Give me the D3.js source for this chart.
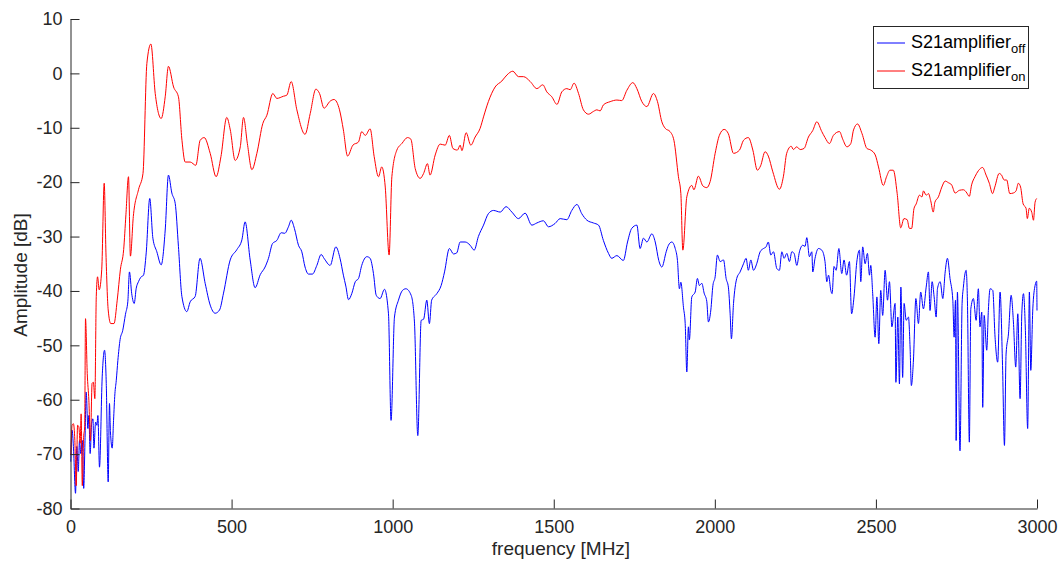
<!DOCTYPE html>
<html><head><meta charset="utf-8">
<script src="https://cdn.jsdelivr.net/npm/d3@7"></script>
<style>body{margin:0;background:#fff} svg{display:block}</style>
</head><body><svg id="c" width="1062" height="566"></svg>
<script>
// ---- data (frequency MHz, amplitude dB) ----
const seriesNames = ["S21amplifier_off", "S21amplifier_on"];
const xTicks = [0, 500, 1000, 1500, 2000, 2500, 3000];
const yTicks = [10, 0, -10, -20, -30, -40, -50, -60, -70, -80];

const seriesOff = [[1,-71.4],[5,-65.6],[9,-68.6],[15.6,-77.2],[19.7,-68.6],[24,-73.2],[28,-67.5],[32,-69.9],[36.6,-67.5],[41,-76.3],[45,-67.5],[48.7,-58.6],[54,-65.3],[57,-62.9],[61,-69.9],[65.5,-64.4],[69.6,-63.5],[72.7,-68.9],[78,-64.1],[82,-64.7],[85,-62.9],[90,-72.4],[98.4,-55.8],[105.7,-50.9],[111,-57],[117,-75.1],[121,-60.7],[124,-65.9],[129.5,-68.9],[133.6,-63.8],[137.8,-58.9],[142,-56.5],[147,-52.8],[154,-48.9],[162,-47.3],[170.6,-44.3],[178,-41.9],[183,-36.5],[190,-40.5],[197.7,-42.3],[204,-39.5],[211,-38.3],[218,-37.5],[226.6,-37.1],[235,-33],[246,-23],[255.7,-30.3],[268,-32.8],[281.5,-35.2],[294,-28.8],[304,-18.7],[314.6,-22],[325,-23.9],[335,-31.8],[345.7,-41],[361,-43.8],[371.5,-42],[387,-41],[402,-34],[418,-38.6],[433.6,-42.6],[449,-44.1],[462.6,-43.5],[475,-40.4],[495.7,-34.3],[516.4,-32.4],[532,-30.6],[542,-27.3],[557.7,-34.3],[573,-39.4],[589,-37],[604,-35.6],[614.5,-34],[627,-31.3],[640.6,-30.7],[654,-29.3],[665,-29.4],[676.6,-28.2],[685,-27],[695,-28.5],[707.6,-31.6],[718,-32.8],[728,-35.6],[738.7,-36.9],[751,-36.9],[764.7,-35.3],[778,-33.3],[788,-34.1],[806,-35.3],[823.6,-31.9],[837,-34.1],[847,-37.1],[854.6,-39.1],[863,-41.6],[873,-40.5],[884,-38.3],[894,-37.7],[904,-35.3],[920,-33.7],[930,-34],[940.4,-36.8],[949,-40.8],[961,-41.4],[974.6,-39.7],[987,-44.2],[995,-63.8],[1005.6,-44.8],[1018,-41.7],[1030.5,-39.9],[1041,-39.6],[1057.4,-40.8],[1067.6,-45.7],[1078,-66.6],[1088.5,-45.4],[1096,-45.2],[1106,-41.7],[1114,-46],[1121,-41.7],[1137,-40.5],[1150.5,-39],[1161,-36.5],[1176,-32.2],[1189,-33.2],[1199,-33],[1209.5,-31],[1225,-31],[1240.5,-31.6],[1253,-32.5],[1266,-30],[1282,-27.9],[1297,-25.8],[1313,-25.2],[1334,-25.5],[1352,-24.5],[1370,-25.5],[1390.5,-26.7],[1411,-25.7],[1432,-27.9],[1447.6,-27.5],[1468,-27.1],[1483.5,-28.2],[1504,-27.6],[1520,-26.7],[1540.6,-26.9],[1556,-25.2],[1572,-24.1],[1587,-25.8],[1603,-27],[1623,-27.5],[1639,-27.9],[1654,-30.7],[1670,-33.1],[1680,-34],[1696,-33.5],[1716,-34.4],[1729,-31],[1742,-28.5],[1758,-27.9],[1768,-32.2],[1778.5,-30.3],[1789,-31],[1804.5,-29.5],[1815,-31],[1826,-34.4],[1835.5,-35.6],[1849,-32.8],[1856,-31.6],[1866.5,-31],[1877,-32.2],[1884,-34.4],[1890,-39.6],[1894.5,-38.4],[1902.6,-43],[1908,-46],[1913,-54.9],[1918,-46.6],[1921,-49],[1928.5,-41.1],[1939,-40.2],[1946,-37.7],[1952,-39],[1959.6,-38.6],[1966.8,-40.4],[1975,-41.9],[1980,-45.7],[1987.6,-43.5],[1994,-39],[2001,-37.4],[2008,-33.4],[2016.5,-34.6],[2027,-34.3],[2035,-37.7],[2042,-39.3],[2047.5,-44.2],[2051.5,-48.8],[2058,-42.3],[2068,-37.7],[2078.5,-36.5],[2089,-35],[2097,-34],[2104,-36.2],[2111.7,-34.3],[2120,-36.2],[2130,-35],[2140.6,-32.8],[2151,-32.2],[2159,-31.9],[2166,-31],[2173.8,-33.4],[2182,-32.8],[2192.5,-35.9],[2200.5,-36.2],[2208,-32.8],[2215,-34],[2223.5,-33.1],[2231.6,-34.6],[2239,-32.8],[2246,-33.1],[2254.5,-35.3],[2262.6,-32.8],[2273,-31.6],[2280,-31.8],[2285.5,-30.2],[2293.6,-33.7],[2301,-32.8],[2304,-36.5],[2311,-34],[2321.5,-32.2],[2332,-32.5],[2342,-34.6],[2347.6,-38.3],[2353,-37.1],[2360,-39.9],[2364,-40.5],[2370,-35.5],[2376.5,-36.2],[2385,-32.2],[2394,-36.8],[2401,-34.3],[2409,-37.1],[2417.7,-34.6],[2424.5,-44.2],[2432,-41.1],[2440.6,-34.7],[2449,-32.5],[2453,-38.3],[2459,-31.9],[2466.5,-35],[2473.7,-33.1],[2480,-37.1],[2484,-35.3],[2490,-40.5],[2497.5,-48.5],[2503,-41.1],[2509,-49.7],[2515,-39.9],[2521,-44.5],[2528.6,-36.2],[2536,-41.7],[2542,-38.3],[2549.6,-46.6],[2559.5,-42.3],[2562,-56.8],[2568,-44.8],[2573,-57.1],[2577.5,-39.3],[2583,-55.9],[2587.5,-42.3],[2594,-45.4],[2601,-44.8],[2606,-50.3],[2610,-57.4],[2616.5,-52.7],[2624,-41.4],[2632,-46],[2639,-40.2],[2647.5,-43.3],[2656,-39.3],[2663,-36.5],[2668,-43.6],[2674.5,-38.3],[2680.7,-41.1],[2687,-44.8],[2691,-39.6],[2699.5,-38.3],[2707.6,-41.4],[2715,-36.5],[2722,-34],[2730,-37.7],[2738.7,-41.7],[2742.7,-48.5],[2747,-41.7],[2749,-67.5],[2753,-40.2],[2761,-69.4],[2767.5,-42.3],[2771.5,-39.3],[2780,-36.2],[2784,-41.7],[2790,-67.8],[2794.6,-43.3],[2802.6,-41.4],[2811,-45.4],[2818,-39.6],[2823,-46.6],[2828.6,-43.9],[2831.5,-61.4],[2836,-44.5],[2844,-50.9],[2849,-43.6],[2854.4,-39.6],[2862.7,-39.9],[2869.8,-48.5],[2878,-53.1],[2885.4,-40.2],[2893,-53.7],[2899,-68.4],[2904,-51.6],[2911.4,-47.9],[2919.7,-40.8],[2926.8,-45.7],[2934,-54],[2940.4,-44.2],[2947.5,-59.8],[2952.8,-44.2],[2958,-40.5],[2964,-47.3],[2971,-65.3],[2976.4,-40.2],[2980.7,-54.6],[2987,-43.3],[2994,-39],[2999,-38.2],[3000,-43.6]];

const seriesOn = [[1,-70.2],[5,-64.7],[9,-64.4],[13.5,-67.5],[17.7,-75.8],[22,-64.7],[26,-65],[30,-68],[33,-62.6],[36.6,-75.8],[40.8,-66.9],[44,-65],[46.6,-45.1],[52,-55.2],[57,-60.1],[62,-67.5],[67,-57],[71,-56.8],[75.6,-59.8],[80,-41],[84,-37.4],[89,-39.8],[97,-36],[104.6,-20.2],[110,-33],[117,-43.5],[125,-46],[135,-46],[145,-41.7],[155,-36],[165,-32.4],[172,-26],[180,-19],[186,-33.6],[195,-26.3],[211,-21.4],[225,-18.4],[237,1.8],[249.5,5.4],[263,-3.7],[281.5,-8.3],[294,-4.3],[304,1.3],[320,-2.5],[335,-4.3],[346,-12.3],[356,-16.3],[371.5,-16.3],[389,-16.9],[402.5,-12.3],[415,-11.8],[433.6,-14.7],[452,-19],[467,-15.3],[485,-8.1],[496,-10.4],[511,-16],[527,-13.5],[537,-8.1],[549,-12.9],[563,-17.7],[578.5,-14.7],[597,-9.2],[609.5,-7.7],[628,-3.7],[640.5,-4.6],[661,-4.2],[671.5,-4.0],[685,-1.5],[702.6,-6.7],[728,-11.2],[744,-7.4],[761.6,-2.9],[773,-3.7],[787,-6.4],[806,-5.1],[818,-4.8],[835,-6.7],[847,-10.4],[860,-15.2],[876.5,-13.2],[894,-12.6],[904,-10.7],[915,-11.4],[930,-10.2],[942.6,-15.3],[956,-19],[966,-17.2],[977,-20.9],[989,-33.4],[997.5,-19],[1013,-14.1],[1028.5,-12.9],[1046,-11.8],[1056.5,-12.1],[1070,-17.5],[1085.5,-19.3],[1096,-18.4],[1108,-16.6],[1116,-18.7],[1132,-15],[1147.5,-13],[1163,-13.2],[1176,-11.4],[1187,-13.8],[1201,-14.1],[1209.5,-13.2],[1215,-14.2],[1228,-10.9],[1242.6,-13.2],[1256,-11.7],[1271.5,-10.1],[1282,-8],[1297,-5.2],[1318,-2.5],[1339,-1.4],[1354.5,-0.3],[1373,0.4],[1390.5,-0.6],[1406,-0.6],[1427,-1.5],[1447.6,-2.8],[1466,-2.1],[1478.5,-3.4],[1494,-4.3],[1510,-5.7],[1525,-3.4],[1540.6,-2.8],[1551,-3],[1563,-1.8],[1577,-3.7],[1592,-6.7],[1608,-7.5],[1623,-7],[1634,-6.7],[1644,-6.9],[1654,-5.8],[1675,-5.2],[1696,-4.9],[1711,-5],[1727,-3.1],[1745.5,-1.7],[1758,-2.8],[1773.5,-5.2],[1789,-6.1],[1809.5,-3.7],[1822,-5.2],[1835.5,-8.9],[1846,-10.1],[1861,-10.7],[1873,-12.3],[1887,-19],[1894.5,-22.1],[1900.7,-32.5],[1913,-22.7],[1928.5,-20.6],[1935,-21.4],[1949,-18.9],[1963,-20.7],[1975,-21],[1985.4,-19.9],[2001,-14.7],[2014,-11.4],[2029,-10.3],[2042,-11.1],[2058,-14.7],[2076.6,-14.1],[2089,-12.3],[2104,-11.8],[2118,-14.1],[2132,-17.8],[2142,-17],[2156,-14.4],[2166,-15.2],[2180,-18.1],[2200.5,-21.3],[2213,-18.9],[2223,-14.7],[2237,-13.4],[2244,-14],[2254,-13.5],[2265,-14],[2277,-13.8],[2290.5,-11.7],[2304,-10.5],[2316.5,-8.9],[2332,-10.7],[2342,-11.8],[2355.7,-12.9],[2368,-11.4],[2387,-10.7],[2397,-12.1],[2410,-13.5],[2422,-12.9],[2430.5,-10.4],[2443,-9.3],[2457,-11.1],[2472,-13.8],[2484,-14.1],[2498,-15],[2508,-17.2],[2523,-20.6],[2533,-19],[2543.5,-17.8],[2554,-17.8],[2566,-22.1],[2577,-28.4],[2587,-26.7],[2597,-26.9],[2604,-28.5],[2611,-28.5],[2618,-24.9],[2625,-24],[2635,-22.4],[2643,-22.7],[2647.5,-21.6],[2656,-22.4],[2663,-22.1],[2670,-23.4],[2678,-25.5],[2683,-23.7],[2694,-22.7],[2704.6,-20.9],[2715,-19.8],[2725,-20.1],[2735,-20.5],[2746,-22],[2759,-21.5],[2772,-21.4],[2780,-21.8],[2790,-22.6],[2797,-20.5],[2807.4,-19],[2818,-17.9],[2831,-17.3],[2842,-18.7],[2852,-20.2],[2862,-22.1],[2869,-20.9],[2882.6,-18.4],[2890,-18.7],[2898,-19.6],[2906,-19.6],[2915.5,-22.1],[2926,-22],[2935,-21.6],[2942,-20.2],[2949,-20.9],[2957,-24],[2966,-24.8],[2970,-26.7],[2976,-24.8],[2984,-25.6],[2989,-27],[2994,-23.7],[2999,-23]];

// ---- drawing ----
const svg = d3.select("#c");
const FONT = "'Liberation Sans', Arial, Helvetica, sans-serif";
const AX = "#262626";
const x = d3.scaleLinear().domain([0, 3000]).range([70.5, 1037]);
const y = d3.scaleLinear().domain([-80, 10]).range([508.5, 19]);

const line = d3.line().x(d => x(d[0])).y(d => y(d[1])).curve(d3.curveMonotoneX);

svg.append("path").datum(seriesOff).attr("d", line)
  .attr("fill", "none").attr("stroke", "#0000ff").attr("stroke-width", 1);
svg.append("path").datum(seriesOn).attr("d", line)
  .attr("fill", "none").attr("stroke", "#ff0000").attr("stroke-width", 1);

const xAxis = svg.append("g").attr("transform", "translate(0,508.5)")
  .call(d3.axisBottom(x).tickValues(xTicks).tickSize(-9).tickSizeOuter(0).tickPadding(12).tickFormat(d3.format("d")));
const yAxis = svg.append("g").attr("transform", "translate(70.5,0)")
  .call(d3.axisLeft(y).tickValues(yTicks).tickSize(-9).tickSizeOuter(0).tickPadding(8).tickFormat(d => d < 0 ? "-" + Math.abs(d) : String(d)));
[xAxis, yAxis].forEach(g => {
  g.selectAll("path,line").attr("stroke", AX).attr("stroke-width", 1);
  g.selectAll("text").attr("fill", AX).style("font-family", FONT).style("font-size", "18px");
});

svg.append("text").attr("x", 561).attr("y", 555).attr("text-anchor", "middle")
  .attr("fill", AX).style("font-family", FONT).style("font-size", "19px").text("frequency [MHz]");
svg.append("text").attr("transform", "translate(27,275) rotate(-90)").attr("text-anchor", "middle")
  .attr("fill", AX).style("font-family", FONT).style("font-size", "19px").text("Amplitude [dB]");

// legend
const lg = svg.append("g");
lg.append("rect").attr("x", 873.5).attr("y", 26.5).attr("width", 155).attr("height", 62)
  .attr("fill", "#fff").attr("stroke", AX).attr("stroke-width", 1);
const legendItems = [
  {base: "S21amplifier", sub: "off", color: "#0000ff", yy: 43},
  {base: "S21amplifier", sub: "on", color: "#ff0000", yy: 71}
];
legendItems.forEach(it => {
  lg.append("line").attr("x1", 877).attr("x2", 905).attr("y1", it.yy).attr("y2", it.yy)
    .attr("stroke", it.color).attr("stroke-width", 1);
  const t = lg.append("text").attr("x", 911).attr("y", it.yy + 4.6)
    .attr("fill", "#000").style("font-family", FONT).style("font-size", "18px");
  t.append("tspan").text(it.base);
  t.append("tspan").attr("dy", 5.5).style("font-size", "13px").text(it.sub);
});
</script>
</body></html>
